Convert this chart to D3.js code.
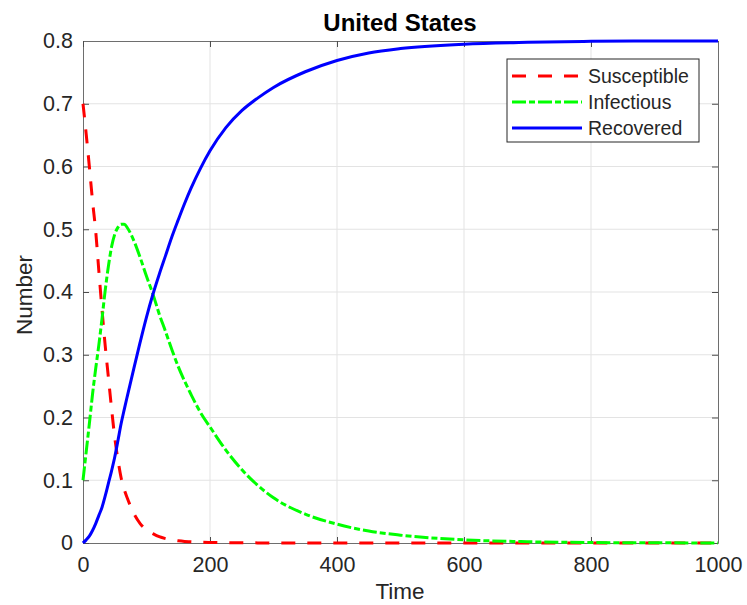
<!DOCTYPE html>
<html lang="en">
<head>
    <meta charset="UTF-8">
    <title>United States</title>
    <script src="https://cdn.jsdelivr.net/npm/d3@7"></script>
    <style>
        body { margin: 0; background: #fff; }
        text { font-family: "Liberation Sans", Arial, sans-serif; fill: #262626; }
    </style>
</head>
<body>
<script>
    // values
    const time = [0, 5, 10, 15, 20, 25, 30, 35, 40, 45, 50, 55, 60, 65, 70, 80, 90, 100, 110, 120,
        130, 140, 150, 160, 170, 185, 200, 225, 250, 275, 300, 350, 400, 450, 500, 600, 700, 800, 900, 1000]
    const susceptible = [0.7, 0.652, 0.6, 0.545, 0.497, 0.433, 0.371, 0.314, 0.264, 0.214, 0.168, 0.133,
        0.104, 0.085, 0.071, 0.047, 0.031, 0.021, 0.015, 0.010, 0.007, 0.005, 0.0035, 0.0025, 0.002, 0.0012,
        0.0008, 0.0005, 0.0003, 0.0002, 0.0001, 0, 0, 0, 0, 0, 0, 0, 0, 0]
    const infectious = [0.1, 0.145, 0.19, 0.237, 0.278, 0.316, 0.358, 0.403, 0.441, 0.472, 0.492, 0.503,
        0.508, 0.508, 0.502, 0.482, 0.455, 0.425, 0.397, 0.365, 0.337, 0.308, 0.281, 0.258, 0.237, 0.208,
        0.185, 0.148, 0.117, 0.092, 0.072, 0.046, 0.030, 0.019, 0.0125, 0.005, 0.002, 0.0008, 0.0003, 0.0001]
    const recovered = [0, 0.005, 0.011, 0.02, 0.031, 0.044, 0.057, 0.075, 0.095, 0.115, 0.137, 0.163,
        0.19, 0.213, 0.235, 0.278, 0.32, 0.36, 0.396, 0.428, 0.458, 0.488, 0.515, 0.541, 0.565, 0.597,
        0.625, 0.662, 0.689, 0.709, 0.726, 0.751, 0.769, 0.781, 0.788, 0.795, 0.798, 0.7995, 0.8, 0.8]
    const xTicks = [0, 200, 400, 600, 800, 1000]
    const yTicks = [0, 0.1, 0.2, 0.3, 0.4, 0.5, 0.6, 0.7, 0.8]

    const series = [
        {name: 'Susceptible', values: susceptible, color: '#ff0000', dash: '14,12'},
        {name: 'Infectious', values: infectious, color: '#00ff00', dash: '14,3,6,3'},
        {name: 'Recovered', values: recovered, color: '#0000ff', dash: null}
    ]

    const [width, height] = [747, 605]
    const margin = {top: 41, right: 29, bottom: 62, left: 83}
    const x = d3.scaleLinear().domain([0, 1000]).range([margin.left, width - margin.right])
    const y = d3.scaleLinear().domain([0, 0.8]).range([height - margin.bottom, margin.top])

    const svg = d3.select('body').append('svg')
        .attr('width', width)
        .attr('height', height)

    // grid
    svg.append('g').selectAll('line').data(xTicks.slice(1, -1))
        .enter().append('line')
        .attr('x1', d => x(d)).attr('x2', d => x(d))
        .attr('y1', y(0)).attr('y2', y(0.8))
        .attr('stroke', '#e3e3e3').attr('stroke-width', 1)
    svg.append('g').selectAll('line').data(yTicks.slice(1, -1))
        .enter().append('line')
        .attr('y1', d => y(d)).attr('y2', d => y(d))
        .attr('x1', x(0)).attr('x2', x(1000))
        .attr('stroke', '#e3e3e3').attr('stroke-width', 1)

    // axes (ticks inside, box on)
    const tickLen = 6
    const axBottom = svg.append('g').attr('transform', `translate(0,${y(0)})`)
        .call(d3.axisBottom(x).tickValues(xTicks).tickFormat(d3.format('d'))
            .tickSizeInner(-tickLen).tickSizeOuter(0).tickPadding(14))
    const axLeft = svg.append('g').attr('transform', `translate(${x(0)},0)`)
        .call(d3.axisLeft(y).tickValues(yTicks).tickFormat(d => d === 0 ? '0' : d3.format('.1f')(d))
            .tickSizeInner(-tickLen).tickSizeOuter(0).tickPadding(10))
    const axTop = svg.append('g').attr('transform', `translate(0,${y(0.8)})`)
        .call(d3.axisTop(x).tickValues(xTicks).tickSizeInner(-tickLen).tickSizeOuter(0).tickFormat(''))
    const axRight = svg.append('g').attr('transform', `translate(${x(1000)},0)`)
        .call(d3.axisRight(y).tickValues(yTicks).tickSizeInner(-tickLen).tickSizeOuter(0).tickFormat(''))
    ;[axBottom, axLeft, axTop, axRight].forEach(g => {
        g.select('.domain').attr('stroke', '#6e6e6e').attr('stroke-width', 1)
        g.selectAll('.tick line').attr('stroke', '#4d4d4d')
        g.selectAll('.tick text').attr('font-size', 21.5).attr('fill', '#262626')
            .style('font-family', '"Liberation Sans", Arial, sans-serif')
    })

    // lines
    const line = d3.line()
        .x((d, i) => x(time[i]))
        .y(d => y(d))
        .curve(d3.curveMonotoneX)
    svg.append('g').selectAll('path.line').data(series)
        .enter().append('path')
        .attr('class', 'line')
        .attr('fill', 'none')
        .attr('stroke', d => d.color)
        .attr('stroke-width', 3)
        .attr('stroke-dasharray', d => d.dash)
        .attr('d', d => line(d.values))

    // title and labels
    svg.append('text').attr('x', 400).attr('y', 31)
        .attr('text-anchor', 'middle').attr('font-size', 24).attr('font-weight', 'bold')
        .style('fill', '#000').text('United States')
    svg.append('text').attr('x', 400).attr('y', 599)
        .attr('text-anchor', 'middle').attr('font-size', 22.5).text('Time')
    svg.append('text').attr('transform', 'translate(32,295) rotate(-90)')
        .attr('text-anchor', 'middle').attr('font-size', 22.5).text('Number')

    // legend
    const legend = svg.append('g')
    legend.append('rect').attr('x', 507).attr('y', 59).attr('width', 192).attr('height', 83)
        .attr('fill', '#fff').attr('stroke', '#262626').attr('stroke-width', 1)
    const rows = legend.selectAll('g.row').data(series)
        .enter().append('g').attr('class', 'row')
        .attr('transform', (d, i) => `translate(0,${76 + i * 26})`)
    rows.append('line').attr('x1', 512).attr('x2', 582)
        .attr('stroke', d => d.color).attr('stroke-width', 3)
        .attr('stroke-dasharray', d => d.dash)
    rows.append('text').attr('x', 588).attr('dy', '0.35em')
        .attr('font-size', 19.5).text(d => d.name)
</script>
</body>
</html>
